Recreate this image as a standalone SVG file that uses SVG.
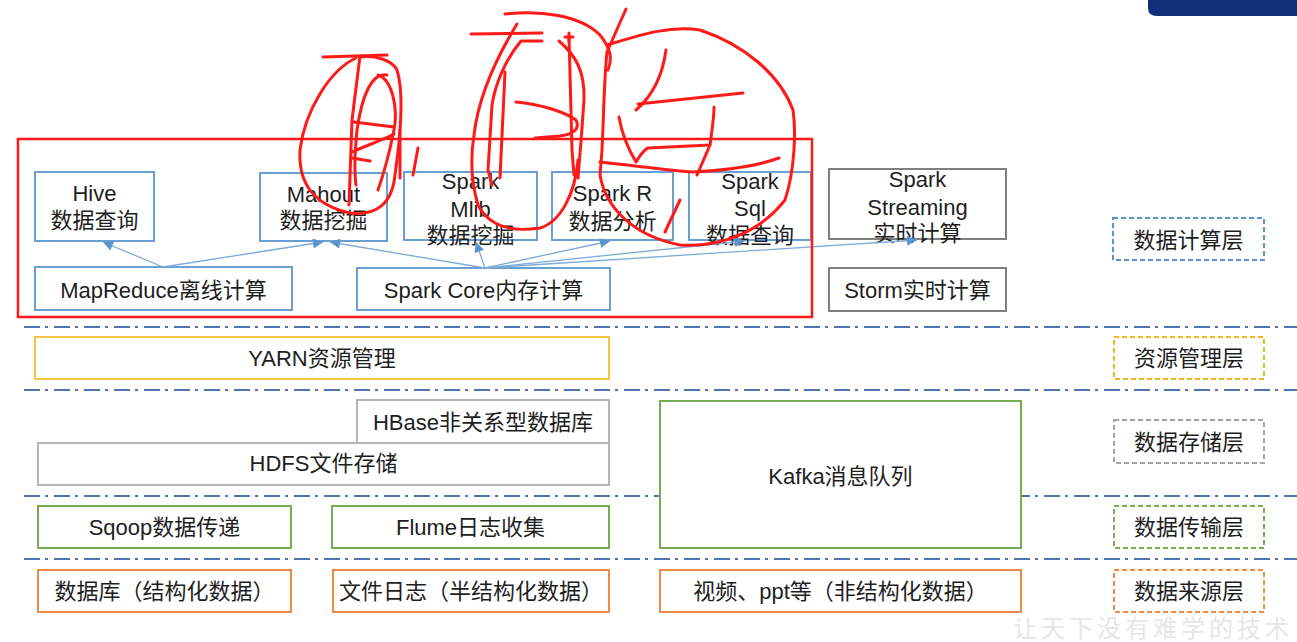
<svg xmlns="http://www.w3.org/2000/svg" width="1297" height="642" viewBox="0 0 1297 642">
<defs>
<style>
text{font-family:"Liberation Sans","Noto Sans CJK SC",sans-serif;font-size:22px;fill:#1e1e1e;text-anchor:middle}
.nb{fill:#fff;stroke:#6a9fd4;stroke-width:2}
.ng{fill:#fff;stroke:#7f7f7f;stroke-width:2}
.nl{fill:#fff;stroke:#b5b5b5;stroke-width:2}
.ny{fill:#fff;stroke:#f5c342;stroke-width:2}
.ngr{fill:#fff;stroke:#76ad52;stroke-width:2}
.no{fill:#fff;stroke:#ee8a45;stroke-width:2}
.lay{fill:#fff;stroke-width:2;stroke-dasharray:5 3}
.sep{stroke:#4f73ad;stroke-width:2;stroke-dasharray:16 5 3 6;fill:none}
.con{stroke:#7eaad8;stroke-width:1.3;fill:none;marker-end:url(#ah)}
.red{stroke:#ff1a1a;stroke-width:3;fill:none;stroke-linecap:round;stroke-linejoin:round}
</style>
<marker id="ah" viewBox="0 0 10 10" refX="10" refY="5" markerWidth="11" markerHeight="10" markerUnits="userSpaceOnUse" orient="auto">
<path d="M0 0 L10 5 L0 10 Z" fill="#5b93d0"/>
</marker>
</defs>
<rect x="0" y="0" width="1297" height="642" fill="#fff"/>
<path d="M1148 0 L1148 8 Q1148 16 1157 16 L1297 16 L1297 0 Z" fill="#12307a"/>
<g id="separators">
<line class="sep" x1="24" y1="327" x2="1297" y2="327"/>
<line class="sep" x1="24" y1="390" x2="1297" y2="390"/>
<line class="sep" x1="24" y1="496" x2="1297" y2="496"/>
<line class="sep" x1="24" y1="559" x2="1297" y2="559"/>
</g>
<g id="hive"><rect class="nb" x="35" y="172" width="119" height="69"/><text x="94.5" y="201">Hive</text><text x="94.5" y="228">数据查询</text></g>
<g id="mahout"><rect class="nb" x="260" y="173" width="127" height="68"/><text x="323.5" y="202">Mahout</text><text x="323.5" y="228">数据挖掘</text></g>
<g id="mlib"><rect class="nb" x="404" y="172" width="133" height="68"/><text x="470.5" y="189">Spark</text><text x="470.5" y="217">Mlib</text><text x="470.5" y="243">数据挖掘</text></g>
<g id="sparkr"><rect class="nb" x="552" y="172" width="121" height="68"/><text x="612.5" y="201">Spark R</text><text x="612.5" y="229">数据分析</text></g>
<g id="sparksql"><rect class="nb" x="689" y="172" width="122" height="68"/><text x="750" y="189">Spark</text><text x="750" y="216">Sql</text><text x="750" y="243">数据查询</text></g>
<g id="streaming"><rect class="ng" x="829" y="169" width="177" height="70"/><text x="917.5" y="187">Spark</text><text x="917.5" y="215">Streaming</text><text x="917.5" y="241">实时计算</text></g>
<g id="mapreduce"><rect class="nb" x="35" y="267" width="257" height="43"/><text x="163.5" y="298">MapReduce离线计算</text></g>
<g id="sparkcore"><rect class="nb" x="357" y="268" width="253" height="42"/><text x="483.5" y="298">Spark Core内存计算</text></g>
<g id="storm"><rect class="ng" x="829" y="268" width="177" height="43"/><text x="917.5" y="298">Storm实时计算</text></g>
<g id="layer-compute"><rect class="lay" x="1113" y="218" width="151" height="42" stroke="#5b93d0"/><text x="1188.5" y="248">数据计算层</text></g>
<g id="yarn"><rect class="ny" x="35" y="337" width="574" height="42"/><text x="322" y="366">YARN资源管理</text></g>
<g id="layer-resource"><rect class="lay" x="1114" y="337" width="150" height="42" stroke="#f2b51e"/><text x="1189" y="366">资源管理层</text></g>
<g id="hbase"><rect class="nl" x="357" y="400" width="252" height="43"/><text x="483" y="430">HBase非关系型数据库</text></g>
<g id="hdfs"><rect class="nl" x="38" y="443" width="571" height="42"/><text x="323.5" y="471">HDFS文件存储</text></g>
<g id="kafka"><rect class="ngr" x="660" y="401" width="361" height="147"/><text x="840.5" y="484">Kafka消息队列</text></g>
<g id="layer-storage"><rect class="lay" x="1114" y="420" width="150" height="43" stroke="#a6a6a6"/><text x="1189" y="450">数据存储层</text></g>
<g id="sqoop"><rect class="ngr" x="38" y="506" width="253" height="42"/><text x="164.5" y="535">Sqoop数据传递</text></g>
<g id="flume"><rect class="ngr" x="332" y="506" width="277" height="42"/><text x="470.5" y="535">Flume日志收集</text></g>
<g id="layer-transfer"><rect class="lay" x="1114" y="506" width="150" height="42" stroke="#76ad52"/><text x="1189" y="535">数据传输层</text></g>
<g id="src-db"><rect class="no" x="38" y="570" width="253" height="42"/><text x="164.5" y="599">数据库（结构化数据）</text></g>
<g id="src-log"><rect class="no" x="333" y="570" width="276" height="42"/><text x="471" y="599">文件日志（半结构化数据）</text></g>
<g id="src-video"><rect class="no" x="660" y="570" width="361" height="42"/><text x="840.5" y="599">视频、ppt等（非结构化数据）</text></g>
<g id="layer-source"><rect class="lay" x="1114" y="570" width="150" height="42" stroke="#ee8a45"/><text x="1189" y="599">数据来源层</text></g>
<g id="connectors">
<line class="con" x1="163" y1="267" x2="103" y2="242"/>
<line class="con" x1="163" y1="267" x2="323" y2="242"/>
<line class="con" x1="485" y1="268" x2="330" y2="242"/>
<line class="con" x1="485" y1="268" x2="476" y2="242"/>
<line class="con" x1="485" y1="268" x2="610" y2="241"/>
<line class="con" x1="485" y1="268" x2="745" y2="241"/>
<line class="con" x1="485" y1="268" x2="917" y2="240"/>
</g>
<g id="annotation">
<rect x="18" y="139" width="794" height="178" fill="none" stroke="#ff1a1a" stroke-width="2.5"/>
<path class="red" d="M323 57 L387 55"/>
<path class="red" d="M356 58 C330 70 305 110 300 150 C298 185 315 205 350 213 C375 216 392 205 395 175 C400 140 405 95 397 70 C392 60 375 55 360 57"/>
<path class="red" d="M360 56 L352 120 L349 205"/>
<path class="red" d="M387 75 C372 72 362 95 357 130 C355 150 354 170 356 185"/>
<path class="red" d="M378 75 C393 80 398 110 394 130 C390 150 385 170 378 190"/>
<path class="red" d="M354 122 L394 127"/>
<path class="red" d="M352 152 C365 146 383 140 394 134"/>
<path class="red" d="M352 158 L370 161"/>
<path class="red" d="M400 130 L400 178"/>
<path class="red" d="M418 148 L413 175"/>
<path class="red" d="M471 34 L542 33"/>
<path class="red" d="M505 14 C540 10 580 15 600 35 C612 50 612 60 608 70"/>
<path class="red" d="M517 24 C495 60 478 100 474 135 C470 160 472 185 478 205 C490 228 515 232 540 228 C560 222 575 195 578 160"/>
<path class="red" d="M542 41 L521 41 C505 60 495 85 492 105 L488 170 L492 185"/>
<path class="red" d="M505 72 L500 178"/>
<path class="red" d="M516 102 C540 104 565 112 576 120 C580 128 575 134 560 136 L535 138"/>
<path class="red" d="M569 36 L572 150 L574 175"/>
<path class="red" d="M565 37 L573 37 M569 33 L569 41"/>
<path class="red" d="M559 41 C575 55 585 70 584 100 C582 130 580 155 578 178"/>
<path class="red" d="M626 9 L607 52 C604 80 604 110 602 150 L600 175 C605 205 630 235 680 245 C720 248 760 232 785 200 C795 170 796 130 793 110 C780 75 745 45 700 30 C670 25 640 35 607 45"/>
<path class="red" d="M666 50 C662 80 650 98 636 110"/>
<path class="red" d="M638 104 L743 93"/>
<path class="red" d="M619 117 C622 135 630 152 636 162 C640 156 643 150 648 148 L710 145 C712 130 714 118 714 107"/>
<path class="red" d="M710 145 L697 175"/>
<path class="red" d="M600 162 C630 165 665 170 693 172 C730 170 760 165 779 158"/>
<path class="red" d="M680 200 L665 232"/>
</g>
<text x="1013" y="637" style="font-size:24px;fill:#e6e6e6;text-anchor:start;letter-spacing:4px">让天下没有难学的技术</text>
</svg>
